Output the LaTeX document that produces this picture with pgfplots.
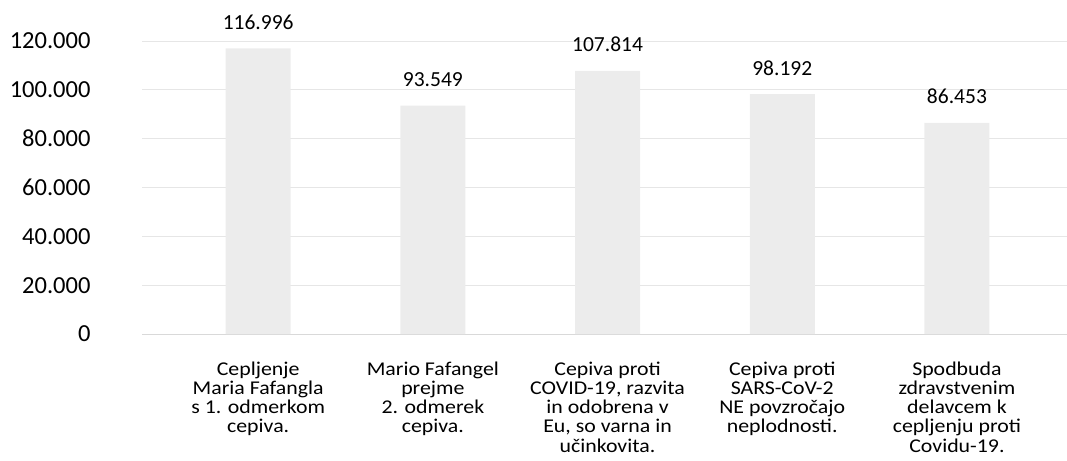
\documentclass[border=0pt]{standalone}
\usepackage{pgfplots}
\pgfplotsset{compat=1.18}
\usepackage{fontspec}
\setmainfont{Carlito}
\newfontfamily\catfont[FakeStretch=1.12]{Carlito}
\definecolor{barcol}{RGB}{236,236,236}
\definecolor{gridcol}{RGB}{230,230,230}
\definecolor{axcol}{RGB}{217,217,217}
\begin{document}
\begin{tikzpicture}
\path[use as bounding box] (0,0) rectangle (1067bp,461bp);
\begin{axis}[
  at={(142bp,127bp)}, anchor=south west,
  scale only axis, width=925bp, height=293bp,
  xmin=-0.665, xmax=4.63, ymin=0, ymax=120000,
  ytick={0,20000,40000,60000,80000,100000,120000},
  xtick={0,1,2,3,4},
  xticklabels={{Cepljenje\\Maria Fafangla\\s 1. odmerkom\\cepiva.},
               {Mario Fafangel\\prejme\\2. odmerek\\cepiva.},
               {Cepiva proti\\COVID-19, razvita\\in odobrena v\\Eu, so varna in\\učinkovita.},
               {Cepiva proti\\SARS-CoV-2\\NE povzročajo\\neplodnosti.},
               {Spodbuda\\zdravstvenim\\delavcem k\\cepljenju proti\\Covidu-19.}},
  axis lines=left, axis line style={-},
  x axis line style={draw=axcol, line width=1pt},
  y axis line style={draw=none},
  major tick length=0pt,
  ymajorgrids, grid style={draw=gridcol, line width=0.8pt},
  scaled y ticks=false,
  /pgf/number format/.cd, 1000 sep={.}, fixed, precision=0, assume math mode=true,
  /pgfplots/.cd,
  yticklabel style={font=\fontsize{24.5bp}{26bp}\selectfont, anchor=east, xshift=-48bp},
  xticklabel style={font=\catfont\fontsize{19.5bp}{19.3bp}\selectfont, align=center, anchor=north, yshift=-24bp},
  clip=false,
  nodes near coords,
  every node near coord/.append style={font=\fontsize{21.5bp}{22bp}\selectfont, anchor=base, yshift=19bp, text=black},
]
\addplot[ybar, bar width=65bp, fill=barcol, draw=none] coordinates {
  (0,116996) (1,93549) (2,107814) (3,98192) (4,86453)
};
\end{axis}
\end{tikzpicture}
\end{document}
